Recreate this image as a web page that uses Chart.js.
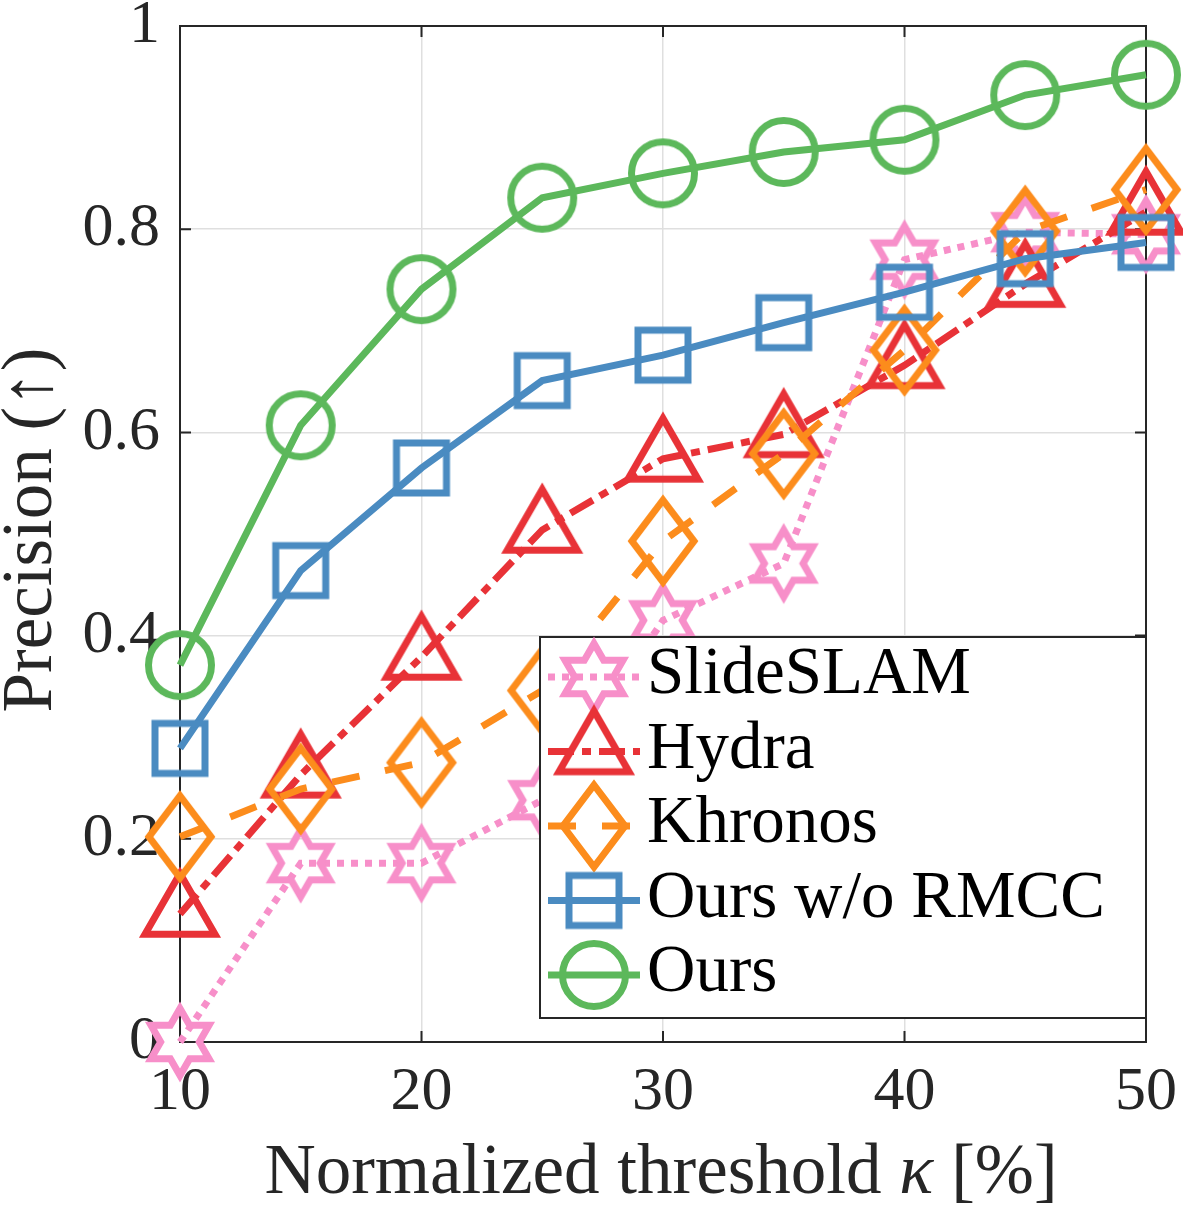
<!DOCTYPE html>
<html>
<head>
<meta charset="utf-8">
<script src="https://cdn.jsdelivr.net/npm/chart.js@4.4.1/dist/chart.umd.min.js"></script>
<style>
  html, body { margin: 0; padding: 0; background: #fff; }
  canvas { display: block; }
</style>
</head>
<body>
<canvas id="myChart" width="1183" height="1214"></canvas>
<script>
// data
let thresholds  = [10, 15, 20, 25, 30, 35, 40, 45, 50];
let slideslam   = [0.0, 0.176, 0.176, 0.238, 0.415, 0.471, 0.770, 0.797, 0.795];
let hydra       = [0.126, 0.263, 0.379, 0.504, 0.574, 0.598, 0.666, 0.746, 0.817];
let khronos     = [0.202, 0.249, 0.275, 0.346, 0.493, 0.579, 0.681, 0.798, 0.839];
let oursNoRmcc  = [0.289, 0.464, 0.565, 0.651, 0.676, 0.708, 0.738, 0.771, 0.787];
let ours        = [0.371, 0.607, 0.741, 0.831, 0.855, 0.876, 0.888, 0.932, 0.952];

let seriesNames = ["SlideSLAM", "Hydra", "Khronos", "Ours w/o RMCC", "Ours"];
let xTicks      = [10, 20, 30, 40, 50];
let yTicks      = [0, 0.2, 0.4, 0.6, 0.8, 1];
let yTickLabels = ["0", "0.2", "0.4", "0.6", "0.8", "1"];

const serif   = "'Liberation Serif', 'Times New Roman', serif";
const axisCol = "#262626";

const colors  = ["#f78fc9", "#e83237", "#fc8c1c", "#4a8bc1", "#5cb85b"];
const dashes  = [[7, 7], [26, 8, 9, 8], [28, 26], [], []];
const shapes  = ["hexagram", "triangle", "diamond", "square", "circle"];

// MATLAB-like hollow markers, drawn once on small canvases
function makeMarker(kind, color) {
    const c = document.createElement("canvas");
    c.width = 100; c.height = 100;
    const g = c.getContext("2d");
    g.strokeStyle = color;
    g.lineWidth = 7;
    g.lineJoin = "miter";
    g.miterLimit = 10;
    g.beginPath();
    const cx = 50, cy = 50;
    if (kind === "circle") {
        g.arc(cx, cy, 31.5, 0, Math.PI * 2);
    } else if (kind === "square") {
        g.rect(cx - 25, cy - 25, 50, 50);
    } else if (kind === "diamond") {
        g.moveTo(cx, cy - 41); g.lineTo(cx + 31, cy);
        g.lineTo(cx, cy + 41); g.lineTo(cx - 31, cy);
        g.closePath();
    } else if (kind === "triangle") {
        g.moveTo(cx, cy - 40.4); g.lineTo(cx + 35, cy + 20.2);
        g.lineTo(cx - 35, cy + 20.2);
        g.closePath();
    } else if (kind === "hexagram") {
        const R = 33.5, r = 33.5 / Math.sqrt(3);
        for (let k = 0; k < 12; k++) {
            const a = -Math.PI / 2 + k * Math.PI / 6;
            const rr = k % 2 === 0 ? R : r;
            const px = cx + rr * Math.cos(a), py = cy + rr * Math.sin(a);
            if (k === 0) g.moveTo(px, py); else g.lineTo(px, py);
        }
        g.closePath();
    }
    g.stroke();
    return c;
}

const markers = shapes.map((s, i) => makeMarker(s, colors[i]));
const allValues = [slideslam, hydra, khronos, oursNoRmcc, ours];

const datasets = allValues.map((vals, i) => ({
    label: seriesNames[i],
    data: thresholds.map((x, j) => ({x: x, y: vals[j]})),
    borderColor: colors[i],
    backgroundColor: "transparent",
    borderWidth: 7,
    borderDash: dashes[i],
    borderCapStyle: "butt",
    tension: 0,
    pointStyle: markers[i],
    pointRadius: 30,
    pointHoverRadius: 30,
    clip: false,
    order: allValues.length - i
}));

// box + inward ticks, under the data
const axesBox = {
    id: "axesBox",
    beforeDatasetsDraw(chart) {
        const {ctx, chartArea: a, scales} = chart;
        ctx.save();
        ctx.strokeStyle = axisCol;
        ctx.lineWidth = 2;
        ctx.setLineDash([]);
        ctx.beginPath();
        xTicks.forEach(v => {
            const px = scales.x.getPixelForValue(v);
            ctx.moveTo(px, a.bottom); ctx.lineTo(px, a.bottom - 11);
            ctx.moveTo(px, a.top);    ctx.lineTo(px, a.top + 11);
        });
        yTicks.forEach(v => {
            const py = scales.y.getPixelForValue(v);
            ctx.moveTo(a.left, py);  ctx.lineTo(a.left + 11, py);
            ctx.moveTo(a.right, py); ctx.lineTo(a.right - 11, py);
        });
        ctx.stroke();
        ctx.strokeRect(a.left, a.top, a.right - a.left, a.bottom - a.top);

        // axis titles
        ctx.fillStyle = axisCol;
        ctx.textBaseline = "alphabetic";
        const cx = (a.left + a.right) / 2 - 2;
        const p1 = "Normalized threshold ", p2 = "\u03BA", p3 = " [%]";
        const fN = "71px " + serif, fI = "italic 71px " + serif;
        ctx.font = fN; const w1 = ctx.measureText(p1).width, w3 = ctx.measureText(p3).width;
        ctx.font = fI; const w2 = ctx.measureText(p2).width;
        let x0 = cx - (w1 + w2 + w3) / 2;
        ctx.textAlign = "left";
        ctx.font = fN; ctx.fillText(p1, x0, 1193);
        ctx.font = fI; ctx.fillText(p2, x0 + w1, 1193);
        ctx.font = fN; ctx.fillText(p3, x0 + w1 + w2, 1193);

        ctx.translate(51, 530);
        ctx.rotate(-Math.PI / 2);
        ctx.textAlign = "center";
        ctx.font = fN;
        ctx.fillText("Precision (\u2191)", 0, 0);
        ctx.restore();
    }
};

// legend box in the lower right, on top of everything
const legendBox = {
    id: "legendBox",
    afterDatasetsDraw(chart) {
        const ctx = chart.ctx;
        const a = chart.chartArea;
        ctx.save();
        ctx.fillStyle = "#ffffff";
        ctx.fillRect(540, 637, a.right - 540, 381);
        ctx.strokeStyle = axisCol;
        ctx.lineWidth = 2;
        ctx.setLineDash([]);
        ctx.strokeRect(540, 637, a.right - 540, 381);

        seriesNames.forEach((name, i) => {
            const cy = 677 + i * 74.5;
            ctx.strokeStyle = colors[i];
            ctx.lineWidth = 7;
            ctx.lineCap = "butt";
            ctx.setLineDash(dashes[i]);
            ctx.beginPath();
            ctx.moveTo(548, cy); ctx.lineTo(640, cy);
            ctx.stroke();
            ctx.setLineDash([]);
            ctx.drawImage(markers[i], 594 - 50, cy - 50);

            ctx.fillStyle = "#000000";
            ctx.font = "67px " + serif;
            ctx.textAlign = "left";
            ctx.textBaseline = "alphabetic";
            ctx.fillText(name, 647, cy + 16);
        });
        ctx.restore();
    }
};

const ctx = document.getElementById("myChart").getContext("2d");
const myChart = new Chart(ctx, {
    type: "line",
    data: { datasets: datasets },
    options: {
        responsive: false,
        animation: false,
        devicePixelRatio: 1,
        layout: { autoPadding: false, padding: { top: 26, right: 37, left: 0, bottom: 0 } },
        plugins: {
            legend: { display: false },
            tooltip: { enabled: false }
        },
        scales: {
            x: {
                type: "linear",
                min: 10,
                max: 50,
                afterBuildTicks: s => { s.ticks = xTicks.map(v => ({value: v})); },
                afterFit: s => {
                    s.height = 172;
                    s.paddingLeft = 0; s.paddingRight = 0;
                    s.paddingTop = 0; s.paddingBottom = 0;
                },
                border: { display: false },
                grid: { color: "#dfdfdf", lineWidth: 1.5, drawTicks: false },
                ticks: {
                    color: axisCol,
                    padding: 14,
                    maxRotation: 0,
                    autoSkip: false,
                    font: { family: serif, size: 62, lineHeight: 1.2 },
                    callback: v => String(v)
                }
            },
            y: {
                min: 0,
                max: 1,
                afterBuildTicks: s => { s.ticks = yTicks.map(v => ({value: v})); },
                afterFit: s => {
                    s.width = 180;
                    s.paddingLeft = 0; s.paddingRight = 0;
                    s.paddingTop = 0; s.paddingBottom = 0;
                },
                border: { display: false },
                grid: { color: "#dfdfdf", lineWidth: 1.5, drawTicks: false },
                ticks: {
                    color: axisCol,
                    padding: 20,
                    autoSkip: false,
                    font: { family: serif, size: 62, lineHeight: 1.2 },
                    callback: (v, i) => yTickLabels[i]
                }
            }
        }
    },
    plugins: [axesBox, legendBox]
});
</script>
</body>
</html>
